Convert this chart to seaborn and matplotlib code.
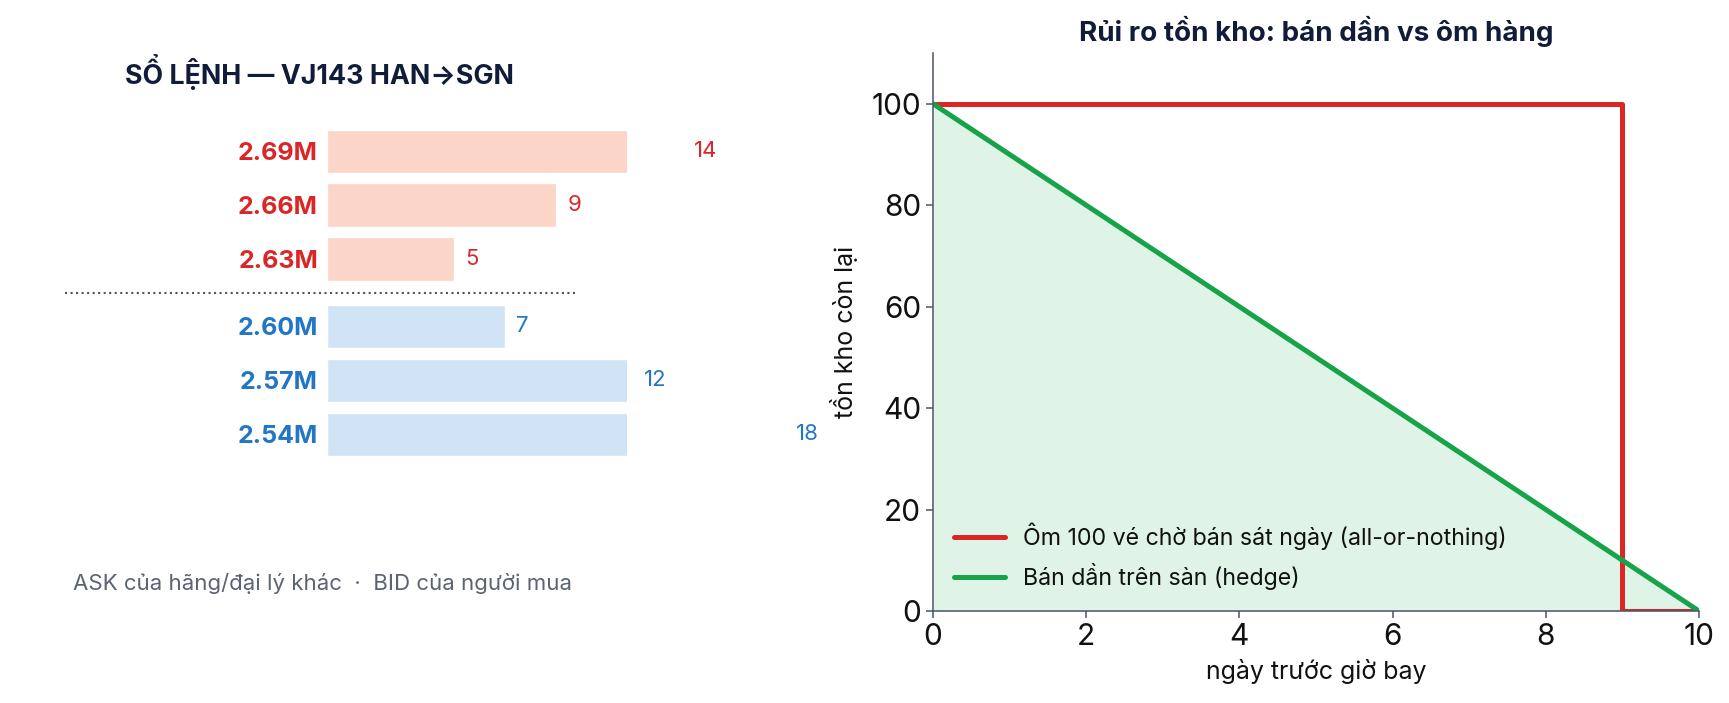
import matplotlib
matplotlib.use("Agg")
import matplotlib.pyplot as plt
import seaborn as sns
import pandas as pd

# ---- data ----
ask_prices = ["2.69M", "2.66M", "2.63M"]
ask_qty = [14, 9, 5]
bid_prices = ["2.60M", "2.57M", "2.54M"]
bid_qty = [7, 12, 18]

days_hold = [0, 9, 9, 10]
inv_hold = [100, 100, 0, 0]
days_hedge = [0, 10]
inv_hedge = [100, 0]

x_ticks = [0, 2, 4, 6, 8, 10]
y_ticks = [0, 20, 40, 60, 80, 100]

# ---- style ----
sns.set_theme(style="white")
plt.rcParams['font.family'] = ['Inter', 'DejaVu Sans']

NAVY = "#111c3a"
RED = "#dc2626"
BLUE = "#2176c7"
ASK_BAR = "#fad5c8"
BID_BAR = "#d0e4f6"
GREEN = "#16a34a"
SPINE = "#4a5568"

fig = plt.figure(figsize=(17.29, 7.03), dpi=100)

# ---------- left: order book ----------
ax1 = fig.add_axes([0.1891, 0.344, 0.1735, 0.4794])
ask_pos = [0, 1, 2]
bid_pos = [3.25, 4.25, 5.25]
df_ask = pd.DataFrame({"qty": ask_qty, "pos": ask_pos})
df_bid = pd.DataFrame({"qty": bid_qty, "pos": bid_pos})
sns.barplot(data=df_ask, x="qty", y="pos", orient="h", native_scale=True,
            color=ASK_BAR, saturation=1, errorbar=None, width=0.8, ax=ax1)
sns.barplot(data=df_bid, x="qty", y="pos", orient="h", native_scale=True,
            color=BID_BAR, saturation=1, errorbar=None, width=0.8, ax=ax1)
ax1.set_xlim(0, 11.8)
ax1.set_ylim(5.75, -0.5)
for s in ax1.spines.values():
    s.set_visible(False)
ax1.set_xticks([])
ax1.set_xlabel("")
ax1.set_ylabel("")
ax1.set_yticks(ask_pos + bid_pos)
ax1.set_yticklabels(ask_prices + bid_prices, fontsize=18, fontweight="bold")
for lbl, c in zip(ax1.get_yticklabels(), [RED] * 3 + [BLUE] * 3):
    lbl.set_color(c)
ax1.tick_params(axis="y", length=0, pad=6.5)

for p, q in zip(ask_pos, ask_qty):
    ax1.text(q + 0.45, p, str(q), color=RED, fontsize=16, va="center", ha="left")
for p, q in zip(bid_pos, bid_qty):
    ax1.text(q + 0.45, p, str(q), color=BLUE, fontsize=16, va="center", ha="left")

sep = (ask_pos[-1] + bid_pos[0]) / 2
ax1.plot([-0.873, 0.837], [sep, sep], transform=ax1.get_yaxis_transform(),
         linestyle=":", color="#4b5563", lw=1.5, clip_on=False)

fig.text(319 / 1729, 1 - 72 / 703, "SỔ LỆNH — VJ143 HAN→SGN", ha="center", va="center",
         fontsize=19.3, fontweight="bold", color=NAVY)
fig.text(73 / 1729, 1 - 583 / 703, "ASK của hãng/đại lý khác  ·  BID của người mua",
         ha="left", va="center", fontsize=16, color="#5b6472")

# ---------- right: inventory risk ----------
ax2 = fig.add_axes([0.5396, 0.1309, 0.4430, 0.7937])
ax2.fill_between(days_hedge, inv_hedge, 0, color=GREEN, alpha=0.13, linewidth=0)
sns.lineplot(x=days_hold, y=inv_hold, estimator=None, sort=False, color=RED, lw=3.6,
             label="Ôm 100 vé chờ bán sát ngày (all-or-nothing)", ax=ax2)
sns.lineplot(x=days_hedge, y=inv_hedge, estimator=None, sort=False, color=GREEN, lw=3.6,
             label="Bán dần trên sàn (hedge)", ax=ax2)
ax2.set_xlim(0, 10)
ax2.set_ylim(0, 110)
ax2.set_xticks(x_ticks)
ax2.set_yticks(y_ticks)
ax2.tick_params(axis="both", labelsize=21.5, length=5, width=1.1, color=SPINE,
                labelcolor="#111111", direction="out", bottom=True, left=True)
for side in ["top", "right"]:
    ax2.spines[side].set_visible(False)
for side in ["left", "bottom"]:
    ax2.spines[side].set_color(SPINE)
    ax2.spines[side].set_linewidth(1.1)
ax2.set_xlabel("ngày trước giờ bay", fontsize=18, color="#111111", labelpad=6)
ax2.set_ylabel("tồn kho còn lại", fontsize=18, color="#111111", labelpad=10)
ax2.set_title("Rủi ro tồn kho: bán dần vs ôm hàng", fontsize=20, fontweight="bold",
              color=NAVY, pad=9)
leg = ax2.legend(loc="lower left", bbox_to_anchor=(0.0, 0.0), frameon=False,
                 fontsize=16.7, handlelength=2.2, labelspacing=0.55)
for t in leg.get_texts():
    t.set_color("#111111")

fig.savefig("out.png", dpi=100)
